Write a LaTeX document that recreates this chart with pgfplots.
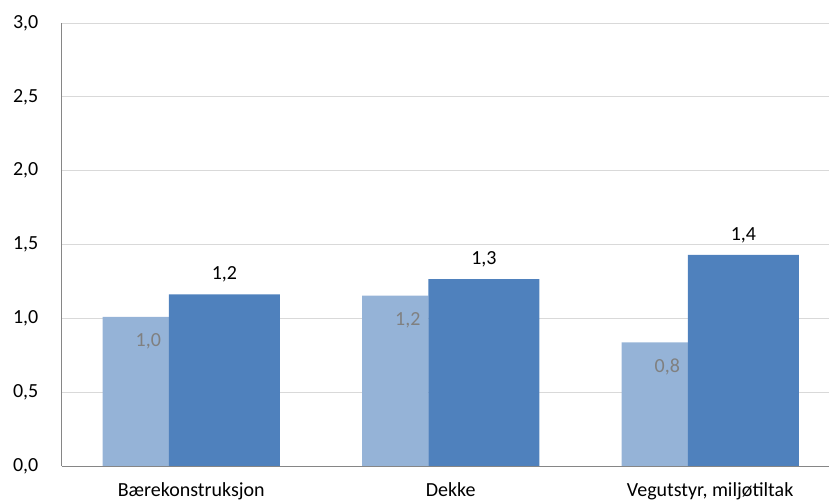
\documentclass[border=0pt]{standalone}
\usepackage{fontspec}
\setmainfont{Carlito}
\usepackage{pgfplots}
\pgfplotsset{compat=1.18}

\definecolor{lightbar}{HTML}{95B3D7}
\definecolor{darkbar}{HTML}{4F81BD}
\definecolor{axisgrey}{HTML}{868686}
\definecolor{gridgrey}{HTML}{D9D9D9}
\definecolor{labelgrey}{HTML}{808080}

\begin{document}
\fontsize{20}{24}\selectfont
\begin{tikzpicture}
\path[use as bounding box] (0,0) rectangle (829pt,502pt);
\begin{axis}[
	at={(61.5pt,36pt)}, anchor=south west,
	scale only axis,
	width=767.5pt, height=443pt,
	xmin=0, xmax=2.958,
	ymin=0, ymax=3,
	ytick={0,0.5,...,3},
	xtick={0.5,1.5,2.5},
	xticklabels={Bærekonstruksjon, Dekke, {Vegutstyr, miljøtiltak}},
	major tick length=0pt,
	axis x line*=bottom, axis y line*=left,
	axis line style={draw=axisgrey, line width=0.8pt, -},
	ymajorgrids,
	grid style={draw=gridgrey, line width=0.8pt},
	/pgf/number format/.cd, fixed, fixed zerofill, precision=1, use comma, assume math mode=true,
	/pgfplots/.cd,
	yticklabel style={anchor=east, inner sep=0pt, xshift=-23pt},
	xticklabel style={anchor=north, inner sep=0pt, yshift=-16.5pt},
	ybar, bar shift=0pt,
	clip=false,
	nodes near coords={\pgfmathprintnumber[fixed,fixed zerofill,precision=1,use comma]{\pgfplotspointmeta}},
]
% light series (inside end labels)
\addplot[fill=lightbar, draw=none, bar width=0.2555,
	nodes near coords style={anchor=center, text=labelgrey, xshift=12.5pt, yshift=-24.5pt}]
	coordinates {(0.2866,1.010) (1.2866,1.153) (2.2866,0.837)};
% dark series (outside end labels)
\addplot[fill=darkbar, draw=none, bar width=0.428,
	nodes near coords style={anchor=center, text=black, yshift=20pt}]
	coordinates {(0.628,1.162) (1.628,1.266) (2.628,1.429)};
\end{axis}
\end{tikzpicture}
\end{document}
